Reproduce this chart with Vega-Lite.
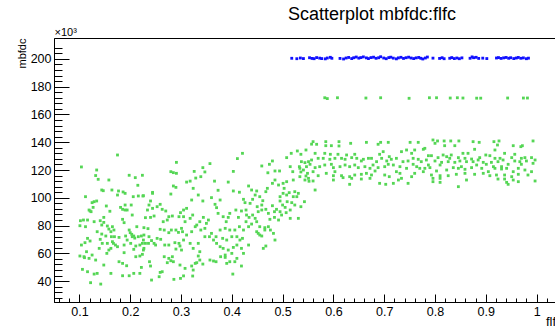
{
"$schema": "https://vega.github.io/schema/vega-lite/v6.json",
"width": 508, "height": 264,
"autosize": {"type": "none"},
"padding": {"left": 54, "top": 38, "right": -7, "bottom": 26},
"background": "white",
"title": {"text": "Scatterplot mbfdc:flfc", "anchor": "middle", "dx": 64, "dy": 17.5, "orient": "top", "offset": 6, "baseline": "alphabetic", "font": "Liberation Sans", "fontSize": 18, "fontWeight": "normal", "color": "#000"},
"config": {"view": {"stroke": "#000", "strokeWidth": 1}, "axis": {"labelFont": "Liberation Sans", "titleFont": "Liberation Sans", "domainColor": "#000", "tickColor": "#000", "labelColor": "#000", "titleColor": "#000", "grid": false, "titleFontWeight": "normal", "labelFlush": false, "labelOverlap": false}},
"datasets": {
"green": [
{"flfc":0.175,"mbfdc":130800},{"flfc":0.104,"mbfdc":122200},{"flfc":0.134,"mbfdc":120000},{"flfc":0.132,"mbfdc":116000},{"flfc":0.137,"mbfdc":113300},{"flfc":0.158,"mbfdc":112800},{"flfc":0.198,"mbfdc":116200},{"flfc":0.21,"mbfdc":114500},{"flfc":0.224,"mbfdc":116200},{"flfc":0.215,"mbfdc":109000},
{"flfc":0.144,"mbfdc":105600},{"flfc":0.147,"mbfdc":105100},{"flfc":0.164,"mbfdc":105600},{"flfc":0.177,"mbfdc":104900},{"flfc":0.186,"mbfdc":104200},{"flfc":0.19,"mbfdc":103200},{"flfc":0.112,"mbfdc":100800},{"flfc":0.175,"mbfdc":102000},{"flfc":0.206,"mbfdc":100800},{"flfc":0.216,"mbfdc":101300},
{"flfc":0.225,"mbfdc":101300},{"flfc":0.244,"mbfdc":103200},{"flfc":0.129,"mbfdc":97200},{"flfc":0.134,"mbfdc":97700},{"flfc":0.125,"mbfdc":96500},{"flfc":0.153,"mbfdc":94100},{"flfc":0.19,"mbfdc":94800},{"flfc":0.181,"mbfdc":93100},{"flfc":0.185,"mbfdc":91700},{"flfc":0.19,"mbfdc":91200},
{"flfc":0.194,"mbfdc":91200},{"flfc":0.202,"mbfdc":94800},{"flfc":0.24,"mbfdc":97700},{"flfc":0.237,"mbfdc":94800},{"flfc":0.234,"mbfdc":91200},{"flfc":0.244,"mbfdc":92400},{"flfc":0.253,"mbfdc":93600},{"flfc":0.259,"mbfdc":95300},{"flfc":0.263,"mbfdc":91700},{"flfc":0.27,"mbfdc":90500},
{"flfc":0.119,"mbfdc":91200},{"flfc":0.123,"mbfdc":90000},{"flfc":0.121,"mbfdc":90500},{"flfc":0.127,"mbfdc":93100},{"flfc":0.16,"mbfdc":90300},{"flfc":0.148,"mbfdc":85900},{"flfc":0.204,"mbfdc":87600},{"flfc":0.23,"mbfdc":85700},{"flfc":0.24,"mbfdc":85900},{"flfc":0.247,"mbfdc":86900},
{"flfc":0.276,"mbfdc":86400},{"flfc":0.283,"mbfdc":86900},{"flfc":0.273,"mbfdc":84000},{"flfc":0.265,"mbfdc":82800},{"flfc":0.299,"mbfdc":89300},{"flfc":0.305,"mbfdc":91200},{"flfc":0.296,"mbfdc":86400},{"flfc":0.102,"mbfdc":83500},{"flfc":0.108,"mbfdc":84000},{"flfc":0.116,"mbfdc":84000},
{"flfc":0.101,"mbfdc":79900},{"flfc":0.112,"mbfdc":79200},{"flfc":0.129,"mbfdc":82800},{"flfc":0.141,"mbfdc":83500},{"flfc":0.148,"mbfdc":82300},{"flfc":0.144,"mbfdc":80400},{"flfc":0.155,"mbfdc":79700},{"flfc":0.158,"mbfdc":77500},{"flfc":0.165,"mbfdc":79200},{"flfc":0.168,"mbfdc":76800},
{"flfc":0.162,"mbfdc":75600},{"flfc":0.185,"mbfdc":84500},{"flfc":0.188,"mbfdc":82100},{"flfc":0.213,"mbfdc":79200},{"flfc":0.227,"mbfdc":78500},{"flfc":0.235,"mbfdc":77800},{"flfc":0.198,"mbfdc":76800},{"flfc":0.2,"mbfdc":74900},{"flfc":0.204,"mbfdc":72000},{"flfc":0.207,"mbfdc":72500},
{"flfc":0.203,"mbfdc":73700},{"flfc":0.135,"mbfdc":75600},{"flfc":0.144,"mbfdc":73900},{"flfc":0.141,"mbfdc":70100},{"flfc":0.116,"mbfdc":70800},{"flfc":0.121,"mbfdc":68900},{"flfc":0.111,"mbfdc":67700},{"flfc":0.152,"mbfdc":72500},{"flfc":0.163,"mbfdc":72000},{"flfc":0.169,"mbfdc":72000},
{"flfc":0.178,"mbfdc":71500},{"flfc":0.155,"mbfdc":67200},{"flfc":0.165,"mbfdc":68400},{"flfc":0.167,"mbfdc":67200},{"flfc":0.171,"mbfdc":66000},{"flfc":0.175,"mbfdc":64800},{"flfc":0.162,"mbfdc":63600},{"flfc":0.158,"mbfdc":62400},{"flfc":0.154,"mbfdc":60000},{"flfc":0.145,"mbfdc":67200},
{"flfc":0.139,"mbfdc":63600},{"flfc":0.104,"mbfdc":66000},{"flfc":0.114,"mbfdc":61200},{"flfc":0.109,"mbfdc":57600},{"flfc":0.101,"mbfdc":58100},{"flfc":0.11,"mbfdc":56900},{"flfc":0.119,"mbfdc":56400},{"flfc":0.125,"mbfdc":58800},{"flfc":0.132,"mbfdc":55200},{"flfc":0.191,"mbfdc":72500},
{"flfc":0.194,"mbfdc":69600},{"flfc":0.188,"mbfdc":66000},{"flfc":0.201,"mbfdc":67200},{"flfc":0.209,"mbfdc":71000},{"flfc":0.216,"mbfdc":72000},{"flfc":0.222,"mbfdc":72500},{"flfc":0.227,"mbfdc":73200},{"flfc":0.211,"mbfdc":65300},{"flfc":0.207,"mbfdc":62900},{"flfc":0.219,"mbfdc":66000},
{"flfc":0.224,"mbfdc":67200},{"flfc":0.226,"mbfdc":69600},{"flfc":0.23,"mbfdc":67200},{"flfc":0.237,"mbfdc":72000},{"flfc":0.242,"mbfdc":69200},{"flfc":0.247,"mbfdc":67200},{"flfc":0.25,"mbfdc":66000},{"flfc":0.236,"mbfdc":67200},{"flfc":0.227,"mbfdc":63600},{"flfc":0.188,"mbfdc":60500},
{"flfc":0.211,"mbfdc":57600},{"flfc":0.219,"mbfdc":58100},{"flfc":0.224,"mbfdc":59300},{"flfc":0.226,"mbfdc":62400},{"flfc":0.178,"mbfdc":54000},{"flfc":0.185,"mbfdc":52800},{"flfc":0.193,"mbfdc":51100},{"flfc":0.148,"mbfdc":51600},{"flfc":0.106,"mbfdc":48500},{"flfc":0.116,"mbfdc":46800},
{"flfc":0.129,"mbfdc":45100},{"flfc":0.135,"mbfdc":45600},{"flfc":0.122,"mbfdc":38900},{"flfc":0.142,"mbfdc":37900},{"flfc":0.162,"mbfdc":45600},{"flfc":0.185,"mbfdc":43900},{"flfc":0.198,"mbfdc":43900},{"flfc":0.207,"mbfdc":45600},{"flfc":0.219,"mbfdc":45600},{"flfc":0.222,"mbfdc":49900},
{"flfc":0.24,"mbfdc":50900},{"flfc":0.238,"mbfdc":54000},{"flfc":0.242,"mbfdc":40800},{"flfc":0.259,"mbfdc":46300},{"flfc":0.263,"mbfdc":46800},{"flfc":0.257,"mbfdc":43200},{"flfc":0.267,"mbfdc":57600},{"flfc":0.276,"mbfdc":56400},{"flfc":0.283,"mbfdc":57600},{"flfc":0.28,"mbfdc":54700},
{"flfc":0.273,"mbfdc":53300},{"flfc":0.285,"mbfdc":54000},{"flfc":0.29,"mbfdc":63100},{"flfc":0.298,"mbfdc":65300},{"flfc":0.301,"mbfdc":62400},{"flfc":0.286,"mbfdc":41300},{"flfc":0.299,"mbfdc":42000},{"flfc":0.305,"mbfdc":43800},{"flfc":0.259,"mbfdc":77300},{"flfc":0.267,"mbfdc":76800},
{"flfc":0.276,"mbfdc":74900},{"flfc":0.281,"mbfdc":76800},{"flfc":0.29,"mbfdc":76800},{"flfc":0.295,"mbfdc":75100},{"flfc":0.303,"mbfdc":75600},{"flfc":0.253,"mbfdc":70800},{"flfc":0.26,"mbfdc":70100},{"flfc":0.268,"mbfdc":66000},{"flfc":0.276,"mbfdc":66000},{"flfc":0.288,"mbfdc":67700},
{"flfc":0.296,"mbfdc":67200},{"flfc":0.28,"mbfdc":118800},{"flfc":0.285,"mbfdc":118100},{"flfc":0.291,"mbfdc":117600},{"flfc":0.291,"mbfdc":125500},{"flfc":0.285,"mbfdc":108500},{"flfc":0.29,"mbfdc":107500},{"flfc":0.28,"mbfdc":102700},{"flfc":0.244,"mbfdc":103900},{"flfc":0.226,"mbfdc":101500},
{"flfc":0.421,"mbfdc":132000},{"flfc":0.411,"mbfdc":128200},{"flfc":0.357,"mbfdc":124600},{"flfc":0.343,"mbfdc":121700},{"flfc":0.326,"mbfdc":119000},{"flfc":0.347,"mbfdc":118600},{"flfc":0.339,"mbfdc":115200},{"flfc":0.329,"mbfdc":114200},{"flfc":0.311,"mbfdc":111300},{"flfc":0.318,"mbfdc":112000},
{"flfc":0.366,"mbfdc":112000},{"flfc":0.393,"mbfdc":111300},{"flfc":0.403,"mbfdc":119000},{"flfc":0.459,"mbfdc":122900},{"flfc":0.474,"mbfdc":124100},{"flfc":0.48,"mbfdc":126500},{"flfc":0.471,"mbfdc":118000},{"flfc":0.485,"mbfdc":119300},{"flfc":0.494,"mbfdc":119300},{"flfc":0.508,"mbfdc":128900},
{"flfc":0.517,"mbfdc":132000},{"flfc":0.529,"mbfdc":133700},{"flfc":0.536,"mbfdc":131300},{"flfc":0.546,"mbfdc":134400},{"flfc":0.537,"mbfdc":126000},{"flfc":0.544,"mbfdc":125300},{"flfc":0.551,"mbfdc":126000},{"flfc":0.515,"mbfdc":122400},{"flfc":0.52,"mbfdc":118800},{"flfc":0.533,"mbfdc":122400},
{"flfc":0.536,"mbfdc":118600},{"flfc":0.541,"mbfdc":120000},{"flfc":0.546,"mbfdc":115700},{"flfc":0.551,"mbfdc":114000},{"flfc":0.549,"mbfdc":117600},{"flfc":0.521,"mbfdc":112800},{"flfc":0.534,"mbfdc":115200},{"flfc":0.501,"mbfdc":110400},{"flfc":0.508,"mbfdc":111600},{"flfc":0.503,"mbfdc":106800},
{"flfc":0.433,"mbfdc":108500},{"flfc":0.439,"mbfdc":105600},{"flfc":0.449,"mbfdc":104900},{"flfc":0.47,"mbfdc":106800},{"flfc":0.467,"mbfdc":104400},{"flfc":0.48,"mbfdc":110400},{"flfc":0.485,"mbfdc":112800},{"flfc":0.492,"mbfdc":109200},{"flfc":0.324,"mbfdc":106800},{"flfc":0.334,"mbfdc":102000},
{"flfc":0.373,"mbfdc":105400},{"flfc":0.403,"mbfdc":104900},{"flfc":0.415,"mbfdc":104000},{"flfc":0.321,"mbfdc":98400},{"flfc":0.343,"mbfdc":97700},{"flfc":0.36,"mbfdc":100100},{"flfc":0.377,"mbfdc":98400},{"flfc":0.367,"mbfdc":95300},{"flfc":0.423,"mbfdc":98900},{"flfc":0.426,"mbfdc":96500},
{"flfc":0.436,"mbfdc":96000},{"flfc":0.441,"mbfdc":98900},{"flfc":0.446,"mbfdc":102000},{"flfc":0.455,"mbfdc":100800},{"flfc":0.461,"mbfdc":97900},{"flfc":0.459,"mbfdc":94800},{"flfc":0.45,"mbfdc":93600},{"flfc":0.495,"mbfdc":100800},{"flfc":0.501,"mbfdc":103200},{"flfc":0.508,"mbfdc":102000},
{"flfc":0.513,"mbfdc":103700},{"flfc":0.524,"mbfdc":104400},{"flfc":0.521,"mbfdc":100800},{"flfc":0.528,"mbfdc":100800},{"flfc":0.531,"mbfdc":103200},{"flfc":0.495,"mbfdc":97700},{"flfc":0.5,"mbfdc":94800},{"flfc":0.505,"mbfdc":93100},{"flfc":0.509,"mbfdc":97200},{"flfc":0.515,"mbfdc":91200},
{"flfc":0.524,"mbfdc":94800},{"flfc":0.518,"mbfdc":96500},{"flfc":0.543,"mbfdc":97200},{"flfc":0.536,"mbfdc":93600},{"flfc":0.48,"mbfdc":94300},{"flfc":0.484,"mbfdc":90000},{"flfc":0.488,"mbfdc":91700},{"flfc":0.495,"mbfdc":90000},{"flfc":0.498,"mbfdc":87600},{"flfc":0.484,"mbfdc":85900},
{"flfc":0.492,"mbfdc":84000},{"flfc":0.507,"mbfdc":89300},{"flfc":0.515,"mbfdc":85200},{"flfc":0.531,"mbfdc":85200},{"flfc":0.311,"mbfdc":92400},{"flfc":0.305,"mbfdc":86400},{"flfc":0.308,"mbfdc":82800},{"flfc":0.318,"mbfdc":85200},{"flfc":0.323,"mbfdc":87600},{"flfc":0.331,"mbfdc":80400},
{"flfc":0.337,"mbfdc":82800},{"flfc":0.344,"mbfdc":85900},{"flfc":0.35,"mbfdc":81600},{"flfc":0.354,"mbfdc":84000},{"flfc":0.347,"mbfdc":78000},{"flfc":0.339,"mbfdc":76800},{"flfc":0.37,"mbfdc":92900},{"flfc":0.373,"mbfdc":88800},{"flfc":0.383,"mbfdc":86400},{"flfc":0.389,"mbfdc":82800},
{"flfc":0.396,"mbfdc":88800},{"flfc":0.393,"mbfdc":85900},{"flfc":0.408,"mbfdc":91200},{"flfc":0.413,"mbfdc":85900},{"flfc":0.419,"mbfdc":90500},{"flfc":0.428,"mbfdc":91200},{"flfc":0.429,"mbfdc":87600},{"flfc":0.434,"mbfdc":85900},{"flfc":0.441,"mbfdc":87600},{"flfc":0.446,"mbfdc":85200},
{"flfc":0.452,"mbfdc":90000},{"flfc":0.459,"mbfdc":91200},{"flfc":0.467,"mbfdc":91700},{"flfc":0.472,"mbfdc":88800},{"flfc":0.475,"mbfdc":84500},{"flfc":0.428,"mbfdc":82800},{"flfc":0.439,"mbfdc":81100},{"flfc":0.449,"mbfdc":82800},{"flfc":0.455,"mbfdc":79200},{"flfc":0.465,"mbfdc":78500},
{"flfc":0.472,"mbfdc":79200},{"flfc":0.476,"mbfdc":76800},{"flfc":0.305,"mbfdc":69600},{"flfc":0.311,"mbfdc":73200},{"flfc":0.321,"mbfdc":75600},{"flfc":0.328,"mbfdc":79200},{"flfc":0.301,"mbfdc":78000},{"flfc":0.318,"mbfdc":67200},{"flfc":0.324,"mbfdc":63600},{"flfc":0.334,"mbfdc":67200},
{"flfc":0.337,"mbfdc":61200},{"flfc":0.347,"mbfdc":72000},{"flfc":0.356,"mbfdc":72000},{"flfc":0.36,"mbfdc":74400},{"flfc":0.369,"mbfdc":72000},{"flfc":0.364,"mbfdc":69600},{"flfc":0.37,"mbfdc":67200},{"flfc":0.377,"mbfdc":76800},{"flfc":0.387,"mbfdc":78000},{"flfc":0.396,"mbfdc":76800},
{"flfc":0.406,"mbfdc":76800},{"flfc":0.415,"mbfdc":79200},{"flfc":0.423,"mbfdc":76800},{"flfc":0.433,"mbfdc":79200},{"flfc":0.382,"mbfdc":70800},{"flfc":0.39,"mbfdc":69600},{"flfc":0.4,"mbfdc":72000},{"flfc":0.41,"mbfdc":72000},{"flfc":0.416,"mbfdc":69600},{"flfc":0.421,"mbfdc":70800},
{"flfc":0.377,"mbfdc":64800},{"flfc":0.383,"mbfdc":63600},{"flfc":0.393,"mbfdc":62400},{"flfc":0.4,"mbfdc":60000},{"flfc":0.387,"mbfdc":58800},{"flfc":0.403,"mbfdc":64300},{"flfc":0.41,"mbfdc":66000},{"flfc":0.419,"mbfdc":63600},{"flfc":0.423,"mbfdc":60000},{"flfc":0.449,"mbfdc":75600},
{"flfc":0.455,"mbfdc":73200},{"flfc":0.452,"mbfdc":74400},{"flfc":0.459,"mbfdc":72500},{"flfc":0.465,"mbfdc":76800},{"flfc":0.433,"mbfdc":66000},{"flfc":0.462,"mbfdc":63600},{"flfc":0.467,"mbfdc":65300},{"flfc":0.482,"mbfdc":74400},{"flfc":0.485,"mbfdc":69600},{"flfc":0.298,"mbfdc":51600},
{"flfc":0.308,"mbfdc":49200},{"flfc":0.321,"mbfdc":50900},{"flfc":0.328,"mbfdc":52800},{"flfc":0.334,"mbfdc":58100},{"flfc":0.337,"mbfdc":55200},{"flfc":0.343,"mbfdc":52300},{"flfc":0.331,"mbfdc":53300},{"flfc":0.324,"mbfdc":48000},{"flfc":0.357,"mbfdc":55200},{"flfc":0.364,"mbfdc":54500},
{"flfc":0.369,"mbfdc":54000},{"flfc":0.378,"mbfdc":57600},{"flfc":0.387,"mbfdc":57100},{"flfc":0.39,"mbfdc":52800},{"flfc":0.396,"mbfdc":54000},{"flfc":0.406,"mbfdc":54000},{"flfc":0.41,"mbfdc":56400},{"flfc":0.419,"mbfdc":50900},{"flfc":0.323,"mbfdc":43700},{"flfc":0.402,"mbfdc":45100},
{"flfc":0.56,"mbfdc":140400},{"flfc":0.557,"mbfdc":138600},{"flfc":0.567,"mbfdc":138500},{"flfc":0.585,"mbfdc":140400},{"flfc":0.585,"mbfdc":137500},{"flfc":0.596,"mbfdc":137500},{"flfc":0.611,"mbfdc":140400},{"flfc":0.611,"mbfdc":137300},{"flfc":0.634,"mbfdc":139200},{"flfc":0.665,"mbfdc":139900},
{"flfc":0.693,"mbfdc":139900},{"flfc":0.688,"mbfdc":138500},{"flfc":0.708,"mbfdc":139900},{"flfc":0.751,"mbfdc":139900},{"flfc":0.767,"mbfdc":139900},{"flfc":0.564,"mbfdc":132000},{"flfc":0.583,"mbfdc":132000},{"flfc":0.594,"mbfdc":131300},{"flfc":0.609,"mbfdc":131300},{"flfc":0.626,"mbfdc":130800},
{"flfc":0.642,"mbfdc":131300},{"flfc":0.659,"mbfdc":127700},{"flfc":0.669,"mbfdc":128400},{"flfc":0.691,"mbfdc":131300},{"flfc":0.698,"mbfdc":133200},{"flfc":0.71,"mbfdc":129600},{"flfc":0.734,"mbfdc":133200},{"flfc":0.744,"mbfdc":134400},{"flfc":0.754,"mbfdc":132000},{"flfc":0.76,"mbfdc":134400},
{"flfc":0.777,"mbfdc":134900},{"flfc":0.557,"mbfdc":127200},{"flfc":0.57,"mbfdc":128400},{"flfc":0.58,"mbfdc":128400},{"flfc":0.593,"mbfdc":127700},{"flfc":0.603,"mbfdc":128400},{"flfc":0.616,"mbfdc":128400},{"flfc":0.623,"mbfdc":127700},{"flfc":0.636,"mbfdc":128900},{"flfc":0.646,"mbfdc":128400},
{"flfc":0.655,"mbfdc":126500},{"flfc":0.675,"mbfdc":128400},{"flfc":0.685,"mbfdc":126000},{"flfc":0.695,"mbfdc":128400},{"flfc":0.705,"mbfdc":126500},{"flfc":0.714,"mbfdc":127700},{"flfc":0.724,"mbfdc":128400},{"flfc":0.737,"mbfdc":126000},{"flfc":0.747,"mbfdc":126500},{"flfc":0.757,"mbfdc":128400},
{"flfc":0.767,"mbfdc":127700},{"flfc":0.773,"mbfdc":126000},{"flfc":0.534,"mbfdc":121200},{"flfc":0.547,"mbfdc":122400},{"flfc":0.554,"mbfdc":124100},{"flfc":0.564,"mbfdc":121700},{"flfc":0.573,"mbfdc":122400},{"flfc":0.583,"mbfdc":123600},{"flfc":0.596,"mbfdc":124100},{"flfc":0.6,"mbfdc":121700},
{"flfc":0.613,"mbfdc":122400},{"flfc":0.623,"mbfdc":123600},{"flfc":0.632,"mbfdc":122400},{"flfc":0.642,"mbfdc":123600},{"flfc":0.649,"mbfdc":121700},{"flfc":0.662,"mbfdc":122400},{"flfc":0.672,"mbfdc":121200},{"flfc":0.678,"mbfdc":123600},{"flfc":0.688,"mbfdc":121700},{"flfc":0.701,"mbfdc":122400},
{"flfc":0.708,"mbfdc":124100},{"flfc":0.718,"mbfdc":123600},{"flfc":0.731,"mbfdc":122400},{"flfc":0.744,"mbfdc":121200},{"flfc":0.757,"mbfdc":124100},{"flfc":0.764,"mbfdc":122400},{"flfc":0.77,"mbfdc":121200},{"flfc":0.56,"mbfdc":118800},{"flfc":0.57,"mbfdc":115900},{"flfc":0.586,"mbfdc":117600},
{"flfc":0.603,"mbfdc":118800},{"flfc":0.6,"mbfdc":115900},{"flfc":0.616,"mbfdc":115900},{"flfc":0.619,"mbfdc":114500},{"flfc":0.632,"mbfdc":115200},{"flfc":0.642,"mbfdc":116400},{"flfc":0.655,"mbfdc":116900},{"flfc":0.665,"mbfdc":117600},{"flfc":0.675,"mbfdc":116400},{"flfc":0.682,"mbfdc":119300},
{"flfc":0.701,"mbfdc":116400},{"flfc":0.71,"mbfdc":115200},{"flfc":0.724,"mbfdc":118800},{"flfc":0.731,"mbfdc":117600},{"flfc":0.734,"mbfdc":114000},{"flfc":0.754,"mbfdc":115200},{"flfc":0.76,"mbfdc":117600},{"flfc":0.777,"mbfdc":118800},{"flfc":0.544,"mbfdc":112800},{"flfc":0.552,"mbfdc":111900},
{"flfc":0.56,"mbfdc":112100},{"flfc":0.636,"mbfdc":114000},{"flfc":0.6,"mbfdc":112800},{"flfc":0.655,"mbfdc":113500},{"flfc":0.672,"mbfdc":114000},{"flfc":0.691,"mbfdc":110400},{"flfc":0.703,"mbfdc":109700},{"flfc":0.718,"mbfdc":110400},{"flfc":0.728,"mbfdc":112800},{"flfc":0.747,"mbfdc":110400},
{"flfc":0.632,"mbfdc":109700},{"flfc":0.564,"mbfdc":105600},
{"flfc":0.796,"mbfdc":141600},{"flfc":0.8,"mbfdc":139200},{"flfc":0.805,"mbfdc":140900},{"flfc":0.818,"mbfdc":140900},{"flfc":0.831,"mbfdc":140900},{"flfc":0.847,"mbfdc":140900},{"flfc":0.875,"mbfdc":140400},{"flfc":0.887,"mbfdc":139900},{"flfc":0.916,"mbfdc":140400},{"flfc":0.926,"mbfdc":140900},
{"flfc":0.923,"mbfdc":138000},{"flfc":0.954,"mbfdc":137500},{"flfc":0.969,"mbfdc":136800},{"flfc":0.972,"mbfdc":137500},{"flfc":0.993,"mbfdc":140900},{"flfc":0.819,"mbfdc":137500},{"flfc":0.839,"mbfdc":137500},{"flfc":0.878,"mbfdc":134900},{"flfc":0.918,"mbfdc":134400},{"flfc":0.78,"mbfdc":135600},
{"flfc":0.787,"mbfdc":130300},{"flfc":0.793,"mbfdc":130300},{"flfc":0.806,"mbfdc":128900},{"flfc":0.816,"mbfdc":130800},{"flfc":0.823,"mbfdc":129600},{"flfc":0.832,"mbfdc":130800},{"flfc":0.829,"mbfdc":128400},{"flfc":0.846,"mbfdc":128900},{"flfc":0.855,"mbfdc":132000},{"flfc":0.865,"mbfdc":132000},
{"flfc":0.859,"mbfdc":128400},{"flfc":0.872,"mbfdc":127900},{"flfc":0.888,"mbfdc":128900},{"flfc":0.9,"mbfdc":130800},{"flfc":0.908,"mbfdc":130300},{"flfc":0.918,"mbfdc":128400},{"flfc":0.928,"mbfdc":128400},{"flfc":0.937,"mbfdc":132000},{"flfc":0.951,"mbfdc":128900},{"flfc":0.957,"mbfdc":131300},
{"flfc":0.97,"mbfdc":128400},{"flfc":0.977,"mbfdc":128900},{"flfc":0.99,"mbfdc":128900},{"flfc":0.997,"mbfdc":127200},{"flfc":0.783,"mbfdc":127200},{"flfc":0.8,"mbfdc":126500},{"flfc":0.813,"mbfdc":125500},{"flfc":0.826,"mbfdc":126000},{"flfc":0.839,"mbfdc":125500},{"flfc":0.849,"mbfdc":126500},
{"flfc":0.862,"mbfdc":126000},{"flfc":0.875,"mbfdc":126000},{"flfc":0.885,"mbfdc":127200},{"flfc":0.895,"mbfdc":125500},{"flfc":0.901,"mbfdc":124100},{"flfc":0.911,"mbfdc":125500},{"flfc":0.924,"mbfdc":126000},{"flfc":0.934,"mbfdc":127200},{"flfc":0.944,"mbfdc":124100},{"flfc":0.957,"mbfdc":126500},
{"flfc":0.967,"mbfdc":126000},{"flfc":0.98,"mbfdc":126500},{"flfc":0.993,"mbfdc":124800},{"flfc":0.787,"mbfdc":123600},{"flfc":0.81,"mbfdc":123600},{"flfc":0.852,"mbfdc":122400},{"flfc":0.882,"mbfdc":123600},{"flfc":0.915,"mbfdc":122400},{"flfc":0.931,"mbfdc":122400},{"flfc":0.97,"mbfdc":124100},
{"flfc":0.78,"mbfdc":121200},{"flfc":0.79,"mbfdc":121700},{"flfc":0.803,"mbfdc":119300},{"flfc":0.823,"mbfdc":120000},{"flfc":0.836,"mbfdc":121700},{"flfc":0.846,"mbfdc":121200},{"flfc":0.859,"mbfdc":120500},{"flfc":0.872,"mbfdc":121700},{"flfc":0.892,"mbfdc":121200},{"flfc":0.905,"mbfdc":118800},
{"flfc":0.918,"mbfdc":121200},{"flfc":0.931,"mbfdc":120700},{"flfc":0.941,"mbfdc":121200},{"flfc":0.954,"mbfdc":118800},{"flfc":0.964,"mbfdc":121200},{"flfc":0.977,"mbfdc":120000},{"flfc":0.99,"mbfdc":118800},{"flfc":0.895,"mbfdc":117600},{"flfc":0.908,"mbfdc":115900},{"flfc":0.793,"mbfdc":116400},
{"flfc":0.81,"mbfdc":115900},{"flfc":0.826,"mbfdc":115900},{"flfc":0.842,"mbfdc":116900},{"flfc":0.859,"mbfdc":117600},{"flfc":0.878,"mbfdc":116900},{"flfc":0.921,"mbfdc":116400},{"flfc":0.937,"mbfdc":116400},{"flfc":0.951,"mbfdc":115200},{"flfc":0.964,"mbfdc":116900},{"flfc":0.983,"mbfdc":116400},
{"flfc":0.796,"mbfdc":114000},{"flfc":0.81,"mbfdc":114000},{"flfc":0.862,"mbfdc":112800},{"flfc":0.924,"mbfdc":113500},{"flfc":0.937,"mbfdc":113500},{"flfc":0.954,"mbfdc":112800},{"flfc":0.964,"mbfdc":111600},{"flfc":0.796,"mbfdc":111600},{"flfc":0.81,"mbfdc":111100},{"flfc":0.941,"mbfdc":111100},
{"flfc":0.944,"mbfdc":109700},{"flfc":0.997,"mbfdc":112100},{"flfc":0.846,"mbfdc":108000},
{"flfc":0.583,"mbfdc":172000},{"flfc":0.588,"mbfdc":171400},{"flfc":0.608,"mbfdc":172000},{"flfc":0.664,"mbfdc":171800},{"flfc":0.693,"mbfdc":172000},{"flfc":0.749,"mbfdc":171600},{"flfc":0.789,"mbfdc":172000},{"flfc":0.803,"mbfdc":172000},{"flfc":0.83,"mbfdc":171800},{"flfc":0.844,"mbfdc":172000},
{"flfc":0.855,"mbfdc":171800},{"flfc":0.882,"mbfdc":171700},{"flfc":0.89,"mbfdc":171700},{"flfc":0.943,"mbfdc":171800},{"flfc":0.974,"mbfdc":171800},{"flfc":0.982,"mbfdc":171800}
],
"blue": [
{"flfc":0.518,"mbfdc":200400},{"flfc":0.528,"mbfdc":200100},{"flfc":0.535,"mbfdc":200600},{"flfc":0.541,"mbfdc":200200},{"flfc":0.553,"mbfdc":200800},{"flfc":0.558,"mbfdc":200300},{"flfc":0.562,"mbfdc":200100},{"flfc":0.567,"mbfdc":200900},{"flfc":0.573,"mbfdc":200500},{"flfc":0.577,"mbfdc":200200},
{"flfc":0.584,"mbfdc":200000},{"flfc":0.588,"mbfdc":200600},{"flfc":0.594,"mbfdc":201100},{"flfc":0.597,"mbfdc":200400},{"flfc":0.613,"mbfdc":200300},{"flfc":0.62,"mbfdc":199900},{"flfc":0.625,"mbfdc":200600},{"flfc":0.63,"mbfdc":201000},{"flfc":0.636,"mbfdc":200200},{"flfc":0.64,"mbfdc":200800},
{"flfc":0.645,"mbfdc":201300},{"flfc":0.65,"mbfdc":200500},{"flfc":0.654,"mbfdc":200900},{"flfc":0.659,"mbfdc":201400},{"flfc":0.665,"mbfdc":200700},{"flfc":0.669,"mbfdc":200200},{"flfc":0.674,"mbfdc":200900},{"flfc":0.679,"mbfdc":201200},{"flfc":0.684,"mbfdc":200400},{"flfc":0.689,"mbfdc":200800},
{"flfc":0.693,"mbfdc":201500},{"flfc":0.699,"mbfdc":200600},{"flfc":0.704,"mbfdc":200100},{"flfc":0.709,"mbfdc":200900},{"flfc":0.713,"mbfdc":201200},{"flfc":0.718,"mbfdc":200500},{"flfc":0.724,"mbfdc":200000},{"flfc":0.728,"mbfdc":200700},{"flfc":0.733,"mbfdc":201100},{"flfc":0.738,"mbfdc":200300},
{"flfc":0.743,"mbfdc":200800},{"flfc":0.748,"mbfdc":201200},{"flfc":0.753,"mbfdc":200600},{"flfc":0.758,"mbfdc":200200},{"flfc":0.763,"mbfdc":200700},{"flfc":0.768,"mbfdc":201000},{"flfc":0.772,"mbfdc":200400},{"flfc":0.776,"mbfdc":199900},{"flfc":0.781,"mbfdc":200600},{"flfc":0.785,"mbfdc":201300},
{"flfc":0.796,"mbfdc":200500},{"flfc":0.809,"mbfdc":200300},{"flfc":0.814,"mbfdc":200800},{"flfc":0.818,"mbfdc":200100},{"flfc":0.829,"mbfdc":200400},{"flfc":0.833,"mbfdc":200900},{"flfc":0.838,"mbfdc":200200},{"flfc":0.843,"mbfdc":200600},{"flfc":0.848,"mbfdc":200100},{"flfc":0.853,"mbfdc":200700},
{"flfc":0.869,"mbfdc":200400},{"flfc":0.873,"mbfdc":201400},{"flfc":0.876,"mbfdc":200800},{"flfc":0.881,"mbfdc":201100},{"flfc":0.886,"mbfdc":200300},{"flfc":0.894,"mbfdc":200500},{"flfc":0.902,"mbfdc":200200},{"flfc":0.921,"mbfdc":200600},{"flfc":0.925,"mbfdc":200900},{"flfc":0.93,"mbfdc":200300},
{"flfc":0.935,"mbfdc":200700},{"flfc":0.94,"mbfdc":201000},{"flfc":0.945,"mbfdc":200400},{"flfc":0.949,"mbfdc":200800},{"flfc":0.955,"mbfdc":200200},{"flfc":0.96,"mbfdc":200600},{"flfc":0.964,"mbfdc":201000},{"flfc":0.969,"mbfdc":200400},{"flfc":0.974,"mbfdc":200700},{"flfc":0.98,"mbfdc":200100},
{"flfc":0.984,"mbfdc":200500}
]
},
"layer": [
{
"data": {"name": "green"},
"mark": {"type": "point", "shape": "square", "filled": true, "size": 8, "color": "#55d655", "opacity": 1, "strokeWidth": 0},
"encoding": {
"x": {"field": "flfc", "type": "quantitative", "scale": {"domain": [0.05, 1.05], "nice": false, "zero": false},
 "axis": {"orient": "bottom", "values": [0.1,0.2,0.3,0.4,0.5,0.6,0.7,0.8,0.9,1], "format": ".1~f", "tickSize": -8, "labelPadding": 11.5, "labelFontSize": 12.5, "title": "flfc", "titleX": 508, "titleY": 23, "titleAlign": "right", "titleBaseline": "alphabetic", "titleFontSize": 13, "domainWidth": 1, "tickWidth": 1}},
"y": {"field": "mbfdc", "type": "quantitative", "scale": {"domain": [25000, 215000], "nice": false, "zero": false},
 "axis": {"orient": "left", "values": [40000,60000,80000,100000,120000,140000,160000,180000,200000], "labelExpr": "datum.value/1000", "tickSize": -15, "labelPadding": 18, "labelFontSize": 12.5, "title": "mbfdc", "titleX": -29, "titleY": 0, "titleAngle": 270, "titleAlign": "right", "titleBaseline": "alphabetic", "titleFontSize": 11, "domainWidth": 1, "tickWidth": 1}}
}
},
{
"data": {"name": "blue"},
"mark": {"type": "point", "shape": "square", "filled": true, "size": 8, "color": "#1010ff", "opacity": 1, "strokeWidth": 0},
"encoding": {
"x": {"field": "flfc", "type": "quantitative", "scale": {"domain": [0.05, 1.05], "nice": false, "zero": false},
 "axis": {"orient": "bottom", "values": [0.06,0.08,0.12,0.14,0.16,0.18,0.22,0.24,0.26,0.28,0.32,0.34,0.36,0.38,0.42,0.44,0.46,0.48,0.52,0.54,0.56,0.58,0.62,0.64,0.66,0.68,0.72,0.74,0.76,0.78,0.82,0.84,0.86,0.88,0.92,0.94,0.96,0.98,1.02,1.04], "labels": false, "domain": false, "tickSize": -4, "tickWidth": 1, "title": null}},
"y": {"field": "mbfdc", "type": "quantitative", "scale": {"domain": [25000, 215000], "nice": false, "zero": false},
 "axis": {"orient": "left", "values": [28000,32000,36000,44000,48000,52000,56000,64000,68000,72000,76000,84000,88000,92000,96000,104000,108000,112000,116000,124000,128000,132000,136000,144000,148000,152000,156000,164000,168000,172000,176000,184000,188000,192000,196000,204000,208000], "labels": false, "domain": false, "tickSize": -8, "tickWidth": 1, "title": "×10³", "titleAngle": 0, "titleX": 0, "titleY": -3, "titleAlign": "left", "titleBaseline": "alphabetic", "titleFontSize": 11}}
}
}
],
"resolve": {"axis": {"x": "independent", "y": "independent"}}
}
